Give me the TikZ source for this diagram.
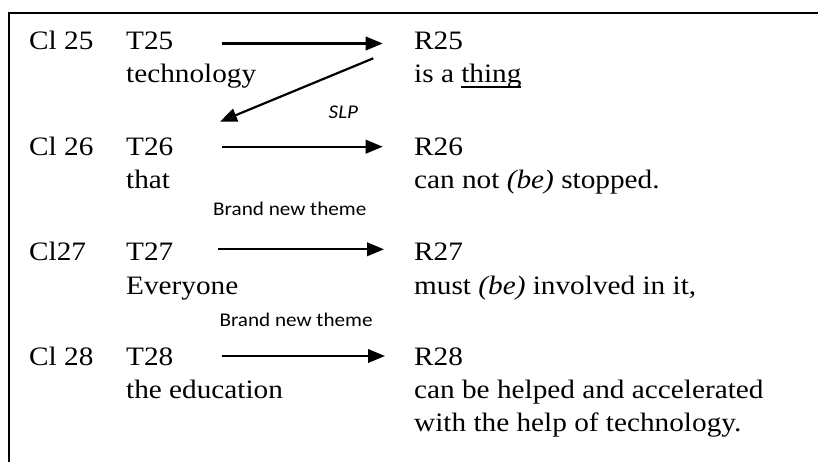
\documentclass[tikz,border=0pt]{standalone}
\usepackage{fontspec}
\setmainfont{Liberation Serif}[FakeStretch=1.1]
\newfontfamily\calibrifont{Carlito}[FakeStretch=1.09]
\usetikzlibrary{arrows.meta}
\newcommand\wul[1]{\sbox0{#1}\rlap{\rule[-5pt]{\wd0}{1.3pt}}\usebox0}
\tikzset{
  tx/.style={anchor=base west, inner sep=0pt, font=\fontsize{26.6}{30}\selectfont},
  lb/.style={anchor=base west, inner sep=0pt, font=\calibrifont\fontsize{19.4}{22}\selectfont},
  arr/.style={line width=2.2pt, -{Triangle[length=17pt,width=13.5pt]}},
  frame/.style={line width=1.8pt}
}
\begin{document}
\begin{tikzpicture}[x=1pt,y=-1pt]
\useasboundingbox (0,0) rectangle (818,462);
% frame
\coordinate (fb) at (9.3,462);
\coordinate (fc) at (9.3,13.2);
\coordinate (fr) at (818,13.2);
\draw[frame] (fb) -- (fc) -- (fr);
% row 25
\node[tx] (c25) at (29,49.5) {Cl 25};
\node[tx] (t25) at (126,49.5) {T25};
\node[tx] (tw25) at (126,82.7) {technology};
\node[tx] (r25) at (414,49.5) {R25};
\node[tx] (rw25) at (414,82.7) {is a \wul{thing}};
% row 26
\node[tx] (c26) at (29,155.7) {Cl 26};
\node[tx] (t26) at (126,155.7) {T26};
\node[tx] (tw26) at (126,188.3) {that};
\node[tx] (r26) at (414,155.7) {R26};
\node[tx] (rw26) at (414,188.3) {can not \textit{(be)} stopped.};
% row 27
\node[tx] (c27) at (29,260) {Cl27};
\node[tx] (t27) at (126,260) {T27};
\node[tx] (tw27) at (126,294) {Everyone};
\node[tx] (r27) at (414,260) {R27};
\node[tx] (rw27) at (414,294) {must \textit{(be)} involved in it,};
% row 28
\node[tx] (c28) at (29,365) {Cl 28};
\node[tx] (t28) at (126,365) {T28};
\node[tx] (tw28) at (126,398.3) {the education};
\node[tx] (r28) at (414,365) {R28};
\node[tx] (rw28) at (414,398.3) {can be helped and accelerated};
\node[tx] (rw28b) at (414,431.7) {with the help of technology.};
% labels
\node[lb] (slp) at (328.5,119) {\itshape SLP};
\node[lb] (bnt1) at (213,215) {Brand new theme};
\node[lb] (bnt2) at (219.3,326.7) {Brand new theme};
% arrows
\coordinate (a1s) at (221.7,43.5);
\coordinate (a1e) at (382.7,43.5);
\coordinate (a2s) at (221.7,146.7);
\coordinate (a2e) at (382.7,146.7);
\coordinate (a3s) at (218,249.3);
\coordinate (a3e) at (384,249.3);
\coordinate (a4s) at (221.7,356);
\coordinate (a4e) at (385,356);
\coordinate (ss) at (373.3,58.3);
\coordinate (se) at (220,121.7);
\draw[arr] (a1s) -- (a1e);
\draw[arr] (a2s) -- (a2e);
\draw[arr] (a3s) -- (a3e);
\draw[arr] (a4s) -- (a4e);
\draw[arr] (ss) -- (se);
\end{tikzpicture}
\end{document}
